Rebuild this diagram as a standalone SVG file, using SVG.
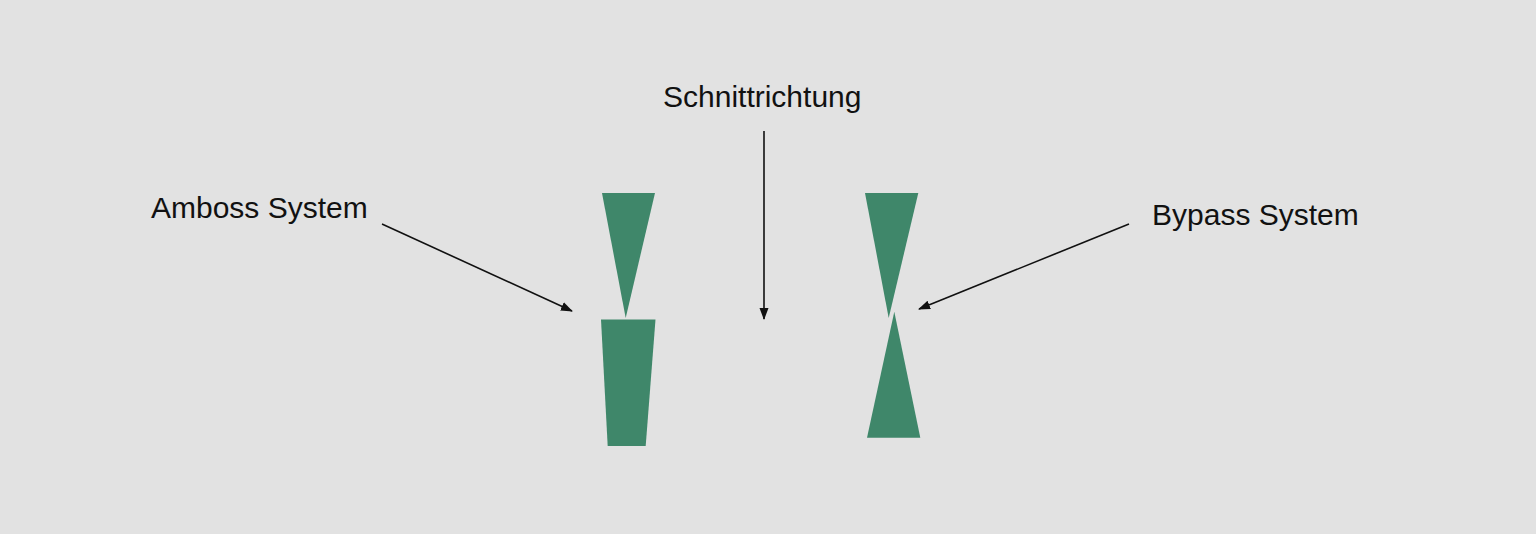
<svg xmlns="http://www.w3.org/2000/svg" width="1536" height="534" viewBox="0 0 1536 534">
<style>
.lbl{font-family:"Liberation Sans",Arial,sans-serif;font-size:30px;fill:#111}
.blade{fill:#3f876a}
.conn{stroke:#111;stroke-width:1.6;fill:none}
</style>
<defs>
<marker id="ah" markerWidth="12" markerHeight="10" refX="11" refY="5" orient="auto" markerUnits="userSpaceOnUse">
<path d="M0,0.5 L12,5 L0,9.5 Z" fill="#111"/>
</marker>
</defs>
<rect width="1536" height="534" fill="#e2e2e2"/>
<g id="amboss">
<polygon class="blade" points="602,193 655,193 625.7,318"/>
<polygon class="blade" points="601,319.5 655.5,319.5 645.7,446 607.7,446"/>
</g>
<g id="bypass">
<polygon class="blade" points="865,193 918.3,193 888.7,318"/>
<polygon class="blade" points="894.3,311.7 920.3,437.7 867,437.7"/>
</g>
<g id="labels">
<text class="lbl" x="151" y="218">Amboss System</text>
<text class="lbl" x="663" y="107">Schnittrichtung</text>
<text class="lbl" x="1152" y="225">Bypass System</text>
</g>
<g id="connectors">
<line class="conn" x1="382" y1="224" x2="572" y2="311" marker-end="url(#ah)"/>
<line class="conn" x1="764" y1="131" x2="764" y2="319" marker-end="url(#ah)"/>
<line class="conn" x1="1129" y1="224" x2="919" y2="309" marker-end="url(#ah)"/>
</g>
</svg>
